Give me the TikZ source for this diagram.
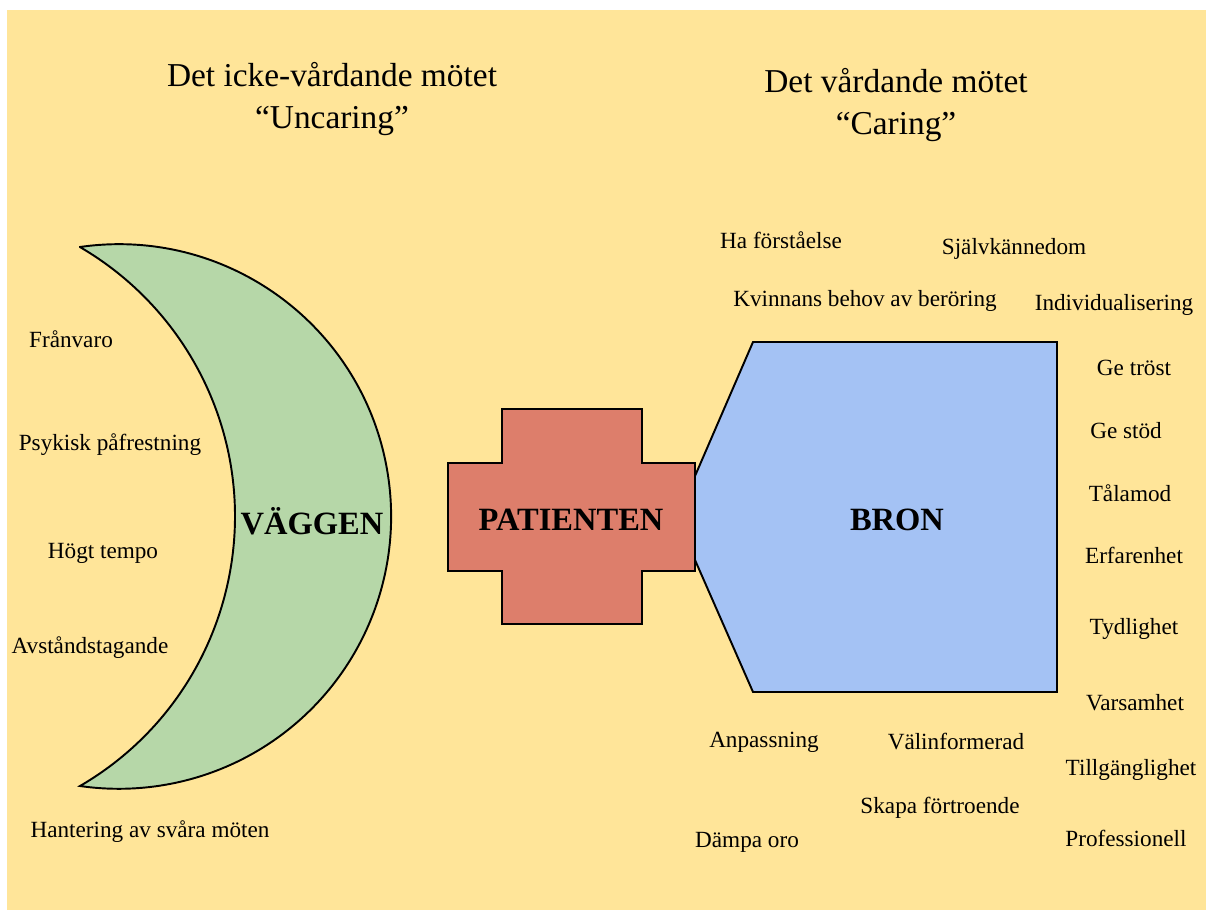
\documentclass[tikz,border=0pt]{standalone}
\usepackage{fontspec}
\setmainfont{Liberation Serif}
\usepackage{tikz}
\usetikzlibrary{positioning}
\definecolor{bgyellow}{HTML}{FFE599}
\definecolor{wallgreen}{HTML}{B6D7A8}
\definecolor{patred}{HTML}{DD7E6B}
\definecolor{bridgeblue}{HTML}{A4C2F4}

\begin{document}
\begin{tikzpicture}[x=0.02cm, y=0.02cm,
  every node/.style={inner sep=1pt},
  heading/.style={align=center, font=\fontsize{19}{23.5}\selectfont},
  keyword/.style={font=\fontsize{13.2}{15}\selectfont},
  bigword/.style={font=\fontsize{18.5}{22}\selectfont\bfseries},
  outline/.style={draw=black, line width=1.1pt, line join=miter}]
\useasboundingbox (0,0) rectangle (1206,910);
% background
\fill[bgyellow] (7,0) rectangle (1206,900);
% headings
\node[heading] (uncaring) at (332,811) {Det icke-vårdande mötet\\``Uncaring''};
\node[heading] (caring) at (896,805) {Det vårdande mötet\\``Caring''};
% the wall (crescent)
\draw[outline, fill=wallgreen] (80,663) arc[start angle=98.2, end angle=-98.2, radius=272.3]
  arc[start angle=-59.8, end angle=59.8, radius=311.8] -- cycle;
\node[bigword] (wall) at (312,389) {VÄGGEN};
% the bridge
\draw[outline, fill=bridgeblue] (753,568) -- (1057,568) -- (1057,218) -- (753,218)
  -- (695,350) -- (695,434) -- cycle;
\node[bigword] (bridge) at (897,390) {BRON};
% the patient (cross)
\draw[outline, fill=patred] (502,501) -- (642,501) -- (642,447) -- (695,447) -- (695,339)
  -- (642,339) -- (642,286) -- (502,286) -- (502,339) -- (448,339) -- (448,447)
  -- (502,447) -- cycle;
\node[bigword] (patient) at (571,390) {PATIENTEN};
% uncaring words
\foreach \n/\x/\y/\t in {franvaro/71/571/Frånvaro, psykisk/110/465/Psykisk påfrestning,
    tempo/103/357/Högt tempo, avstand/90/262/Avståndstagande,
    hantering/150/78/Hantering av svåra möten}{
  \node[keyword] (\n) at (\x,\y) {\t};
}
% caring words
\foreach \n/\x/\y/\t in {forstaelse/781/670/Ha förståelse, kannedom/1014/661/Självkännedom,
    beroring/865/609/Kvinnans behov av beröring, individ/1114/605/Individualisering,
    trost/1134/542/Ge tröst, stod/1126/479/Ge stöd, talamod/1130/417/Tålamod,
    erfarenhet/1134/355/Erfarenhet, tydlighet/1134/281/Tydlighet,
    varsamhet/1135/207/Varsamhet, anpassning/764/168/Anpassning,
    valinformerad/956/168/Välinformerad, tillganglig/1131/140/Tillgänglighet,
    fortroende/940/102/Skapa förtroende, professionell/1126/72/Professionell,
    dampa/747/68/Dämpa oro}{
  \node[keyword] (\n) at (\x,\y) {\t};
}
\end{tikzpicture}
\end{document}
